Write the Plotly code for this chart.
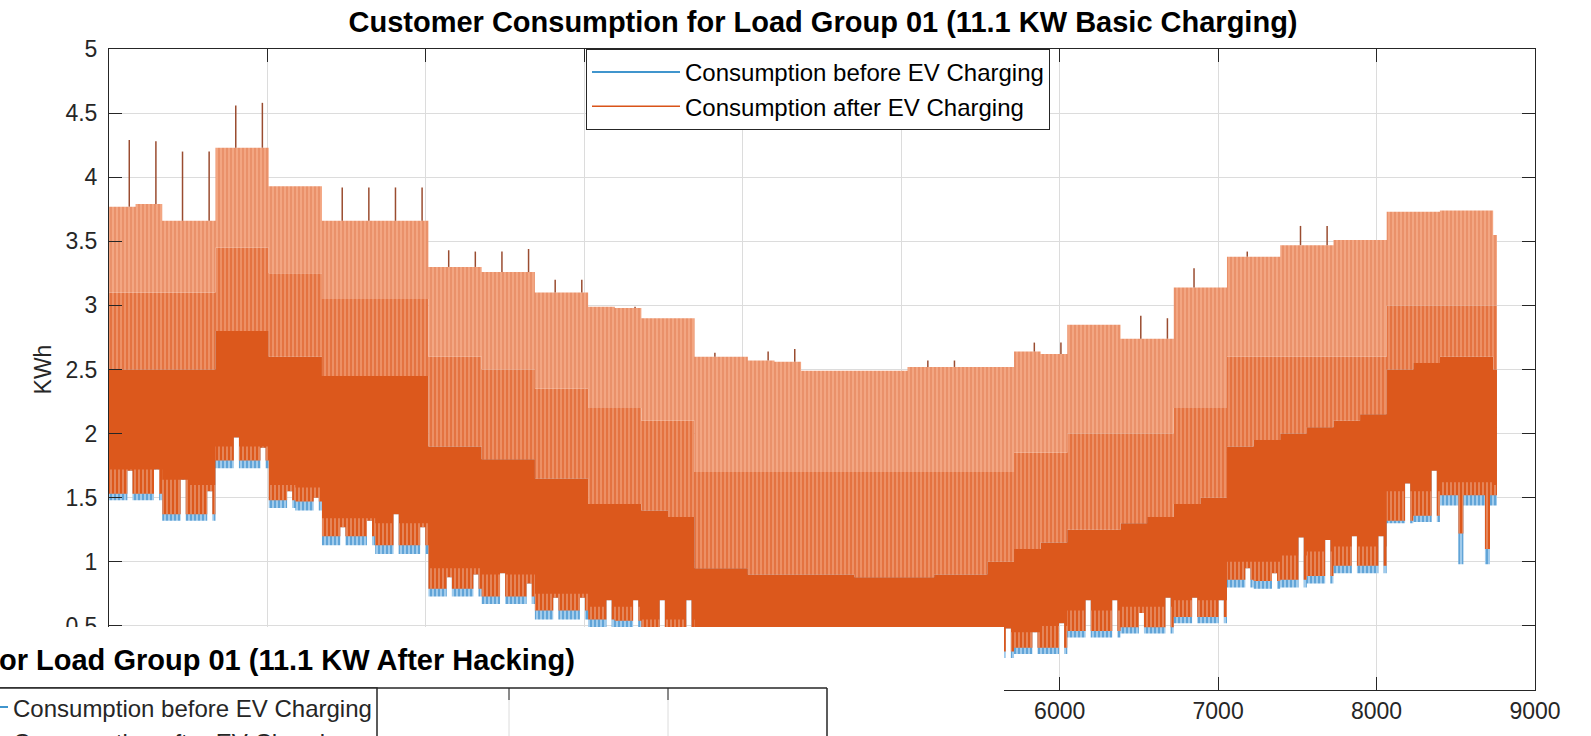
import plotly.graph_objects as go

# ---------------- data (one value per week) ----------------
HOURS_PER_WEEK = 168
TOTAL_HOURS = 8760

peak = [3.77, 3.79, 3.66, 3.66, 4.23, 4.23, 3.93, 3.93, 3.66, 3.66, 3.66, 3.66,
        3.30, 3.30, 3.26, 3.26, 3.10, 3.10, 2.99, 2.98, 2.90, 2.90, 2.60, 2.60,
        2.57, 2.56, 2.49, 2.49, 2.49, 2.49, 2.52, 2.52, 2.52, 2.52, 2.64, 2.62,
        2.85, 2.85, 2.74, 2.74, 3.14, 3.14, 3.38, 3.38, 3.47, 3.47, 3.51, 3.51,
        3.73, 3.73, 3.74, 3.74, 3.55]

spike = [4.29, 4.28, 4.20, 4.20, 4.56, 4.58, 3.93, 3.93, 3.92, 3.92, 3.92, 3.92,
         3.43, 3.42, 3.42, 3.44, 3.20, 3.20, 2.99, 2.99, 2.90, 2.90, 2.63, 2.60,
         2.64, 2.66, 2.49, 2.49, 2.49, 2.49, 2.57, 2.57, 2.52, 2.52, 2.71, 2.71,
         2.85, 2.85, 2.92, 2.90, 3.29, 3.14, 3.42, 3.38, 3.62, 3.62, 3.51, 3.51,
         3.73, 3.73, 3.74, 3.74, 3.55]

after_low = [1.53, 1.53, 1.37, 1.37, 1.79, 1.79, 1.48, 1.47, 1.20, 1.20, 1.13, 1.13,
             0.79, 0.79, 0.73, 0.73, 0.62, 0.62, 0.55, 0.54, 0.45, 0.45, 0.38, 0.38,
             0.35, 0.35, 0.32, 0.32, 0.30, 0.30, 0.30, 0.30, 0.30, 0.30, 0.33, 0.33,
             0.46, 0.46, 0.49, 0.49, 0.57, 0.57, 0.86, 0.85, 0.86, 0.89, 0.97, 0.97,
             1.32, 1.36, 1.52, 1.52, 1.52]

before_low = [1.48, 1.48, 1.32, 1.32, 1.73, 1.73, 1.42, 1.40, 1.13, 1.13, 1.06, 1.06,
              0.73, 0.73, 0.67, 0.67, 0.55, 0.55, 0.49, 0.48, 0.40, 0.40, 0.33, 0.33,
              0.30, 0.30, 0.27, 0.27, 0.25, 0.25, 0.25, 0.25, 0.25, 0.25, 0.28, 0.28,
              0.41, 0.41, 0.44, 0.44, 0.52, 0.52, 0.80, 0.79, 0.80, 0.83, 0.91, 0.91,
              1.30, 1.31, 1.44, 1.44, 1.44]

notch_after = [1.71, 1.72, 1.64, 1.55, 1.97, 1.89, 1.55, 1.50, 1.27, 1.32, 1.37, 1.27,
               0.88, 0.90, 0.91, 0.83, 0.72, 0.72, 0.70, 0.70, 0.70, 0.70, 0.48, 0.48,
               0.48, 0.48, 0.48, 0.48, 0.48, 0.48, 0.48, 0.48, 0.48, 0.48, 0.45, 0.52,
               0.70, 0.70, 0.60, 0.72, 0.72, 0.70, 0.95, 0.91, 1.19, 1.17, 1.20, 1.20,
               1.61, 1.71, 1.22, 1.10, 1.52]

notch_before = [1.71, 1.72, 1.64, 1.55, 1.97, 1.89, 1.55, 1.50, 1.27, 1.32, 1.37, 1.27,
                0.88, 0.90, 0.91, 0.83, 0.72, 0.72, 0.70, 0.70, 0.70, 0.70, 0.48, 0.48,
                0.48, 0.48, 0.48, 0.48, 0.48, 0.48, 0.48, 0.48, 0.48, 0.48, 0.45, 0.52,
                0.70, 0.70, 0.60, 0.72, 0.72, 0.70, 0.95, 0.91, 1.19, 1.17, 1.20, 1.20,
                1.61, 1.71, 0.98, 0.98, 1.44]

fringe_top = [1.72, 1.72, 1.64, 1.60, 1.90, 1.90, 1.60, 1.58, 1.34, 1.34, 1.30, 1.30,
              0.95, 0.95, 0.90, 0.90, 0.75, 0.75, 0.65, 0.65, 0.55, 0.55, 0.48, 0.48,
              0.45, 0.45, 0.42, 0.42, 0.40, 0.40, 0.40, 0.40, 0.40, 0.45, 0.45, 0.50,
              0.62, 0.62, 0.65, 0.65, 0.70, 0.70, 1.00, 1.00, 1.05, 1.08, 1.12, 1.12,
              1.55, 1.55, 1.62, 1.62, 1.60]

dense_top = [2.50, 2.50, 2.50, 2.50, 2.80, 2.80, 2.60, 2.60, 2.45, 2.45, 2.45, 2.45,
             1.90, 1.90, 1.80, 1.80, 1.65, 1.65, 1.45, 1.45, 1.40, 1.35, 0.95, 0.95,
             0.90, 0.90, 0.90, 0.90, 0.88, 0.88, 0.88, 0.90, 0.90, 1.00, 1.10, 1.15,
             1.25, 1.25, 1.30, 1.35, 1.45, 1.50, 1.90, 1.95, 2.00, 2.05, 2.10, 2.15,
             2.50, 2.55, 2.60, 2.60, 2.50]

mid_top = [3.10, 3.10, 3.10, 3.10, 3.45, 3.45, 3.25, 3.25, 3.05, 3.05, 3.05, 3.05,
           2.60, 2.60, 2.50, 2.50, 2.35, 2.35, 2.20, 2.20, 2.10, 2.10, 1.70, 1.70,
           1.70, 1.70, 1.70, 1.70, 1.70, 1.70, 1.70, 1.70, 1.70, 1.70, 1.85, 1.85,
           2.00, 2.00, 2.00, 2.00, 2.20, 2.20, 2.60, 2.60, 2.60, 2.60, 2.60, 2.60,
           3.00, 3.00, 3.00, 3.00, 3.00]

x_ticks = [0, 1000, 2000, 3000, 4000, 5000, 6000, 7000, 8000, 9000]
# labels 0..5000 lie under the pasted-over panel in the reference, so they are blank
x_tick_text = ["", "", "", "", "", "", "6000", "7000", "8000", "9000"]
y_ticks = [0, 0.5, 1, 1.5, 2, 2.5, 3, 3.5, 4, 4.5, 5]
y_tick_text = ["", "0.5", "1", "1.5", "2", "2.5", "3", "3.5", "4", "4.5", "5"]

title_main = "Customer Consumption for Load Group 01 (11.1 KW Basic Charging)"
title_under = "or Load Group 01 (11.1 KW After Hacking)"
name_before = "Consumption before EV Charging"
name_after = "Consumption after EV Charging"

# ---------------- layout geometry ----------------
W, H = 1591, 736
ML, MR, MT, MB = 109, 56, 49, 46
PW, PH = W - ML - MR, H - MT - MB
FONT = "Liberation Sans, Arial, sans-serif"
INK = "#262626"


def px(x):
    return (x - ML) / PW


def py(y):
    return (H - MB - y) / PH


n = len(peak)
starts = [HOURS_PER_WEEK * i for i in range(n)]
ends = [min(s + HOURS_PER_WEEK, TOTAL_HOURS) for s in starts]
NOTCH0, NOTCH1, SPIKE_AT = 116, 148, 128


def step_path(vals, notch=None):
    xs, ys = [], []
    for i, (s, e) in enumerate(zip(starts, ends)):
        v = vals[i]
        if notch is not None and s + NOTCH1 <= e:
            xs += [s, s + NOTCH0, s + NOTCH0, s + NOTCH1, s + NOTCH1, e]
            ys += [v, v, notch[i], notch[i], v, v]
        else:
            xs += [s, e]
            ys += [v, v]
    return xs, ys


def band(lower, upper):
    lx, ly = lower
    ux, uy = upper
    return ux + lx[::-1], uy + ly[::-1]


def add_band(fig, lower, upper, **style):
    bx, by = band(lower, upper)
    fig.add_trace(go.Scatter(x=bx, y=by, mode="lines", fill="toself", line=dict(width=0),
                             showlegend=False, hoverinfo="skip", **style))


fig = go.Figure()

# blue (before charging) strip showing below the orange
add_band(fig, step_path(before_low, notch_before), step_path(dense_top),
         fillpattern=dict(shape="|", fgcolor="#1C78C0", bgcolor="#A6D0EE", size=4, solidity=0.55))
# dense orange body
add_band(fig, step_path(after_low, notch_after), step_path(dense_top), fillcolor="#DC581C")
# sparse lower fringe (orange lines with white gaps)
add_band(fig, step_path(after_low, notch_after), step_path(fringe_top),
         fillpattern=dict(shape="|", fgcolor="rgba(255,255,255,0.75)", bgcolor="rgba(0,0,0,0)",
                          size=4, solidity=0.35))
# medium band
add_band(fig, step_path(dense_top), step_path(mid_top),
         fillpattern=dict(shape="|", fgcolor="#D95319", bgcolor="#EE9268", size=4, solidity=0.55))
# light upper band
add_band(fig, step_path(mid_top), step_path(peak),
         fillpattern=dict(shape="|", fgcolor="#D25E30", bgcolor="#F3A682", size=4, solidity=0.3))

sx, sy = [], []
for i, s in enumerate(starts):
    if spike[i] > peak[i] and s + SPIKE_AT <= ends[i]:
        sx += [s + SPIKE_AT, s + SPIKE_AT, None]
        sy += [peak[i], spike[i], None]
fig.add_trace(go.Scatter(x=sx, y=sy, mode="lines", line=dict(color="#9A4C30", width=1.5),
                         showlegend=False, hoverinfo="skip"))

# legend entries
fig.add_trace(go.Scatter(x=[None], y=[None], mode="lines", name=name_before,
                         line=dict(color="#0072BD", width=1.5)))
fig.add_trace(go.Scatter(x=[None], y=[None], mode="lines", name=name_after,
                         line=dict(color="#D95319", width=1.5)))

axis_common = dict(showline=True, linecolor=INK, linewidth=1, mirror="allticks",
                   ticks="inside", ticklen=13, tickcolor=INK, tickwidth=1,
                   showgrid=True, gridcolor="#DCDCDC", gridwidth=1, zeroline=False,
                   tickfont=dict(family=FONT, size=23, color=INK))

fig.update_xaxes(range=[0, 9000], tickmode="array", tickvals=x_ticks,
                 ticktext=x_tick_text, **axis_common)
fig.update_yaxes(range=[0, 5], tickmode="array", tickvals=y_ticks, ticktext=y_tick_text,
                 ticklabelstandoff=6,
                 title=dict(text="KWh", font=dict(family=FONT, size=23, color=INK), standoff=7),
                 **axis_common)

# white panel covering the lower-left (a second chart pasted over the first)
shapes = [
    dict(type="rect", xref="paper", yref="paper", layer="above",
         x0=px(-10), x1=px(1004), y0=py(760), y1=py(627),
         fillcolor="white", line=dict(width=0)),
    dict(type="line", xref="paper", yref="paper", layer="above",
         x0=px(509), x1=px(509), y0=py(688), y1=py(760), line=dict(color="#DCDCDC", width=1)),
    dict(type="line", xref="paper", yref="paper", layer="above",
         x0=px(668), x1=px(668), y0=py(688), y1=py(760), line=dict(color="#DCDCDC", width=1)),
    dict(type="line", xref="paper", yref="paper", layer="above",
         x0=px(509), x1=px(509), y0=py(688), y1=py(700), line=dict(color=INK, width=1)),
    dict(type="line", xref="paper", yref="paper", layer="above",
         x0=px(668), x1=px(668), y0=py(688), y1=py(700), line=dict(color=INK, width=1)),
    dict(type="line", xref="paper", yref="paper", layer="above",
         x0=px(-10), x1=px(827), y0=py(688), y1=py(688), line=dict(color=INK, width=1.5)),
    dict(type="line", xref="paper", yref="paper", layer="above",
         x0=px(827), x1=px(827), y0=py(688), y1=py(760), line=dict(color=INK, width=1.5)),
    dict(type="rect", xref="paper", yref="paper", layer="above",
         x0=px(-10), x1=px(377), y0=py(760), y1=py(688),
         fillcolor="white", line=dict(color=INK, width=1.5)),
    dict(type="line", xref="paper", yref="paper", layer="above",
         x0=px(-10), x1=px(8), y0=py(707), y1=py(707), line=dict(color="#0072BD", width=1.5)),
]

annotations = [
    dict(xref="paper", yref="paper", x=px(-3), y=py(660), xanchor="left", yanchor="middle",
         text="<b>" + title_under + "</b>", showarrow=False,
         font=dict(family=FONT, size=29, color="black")),
    dict(xref="paper", yref="paper", x=px(11), y=py(708), xanchor="left", yanchor="middle",
         text=name_before, showarrow=False, font=dict(family=FONT, size=24, color=INK)),
    dict(xref="paper", yref="paper", x=px(11), y=py(742), xanchor="left", yanchor="middle",
         text=name_after, showarrow=False, font=dict(family=FONT, size=24, color=INK)),
]

fig.update_layout(
    width=W, height=H,
    margin=dict(l=ML, r=MR, t=MT, b=MB, autoexpand=False),
    paper_bgcolor="white", plot_bgcolor="white",
    title=dict(text="<b>" + title_main + "</b>", x=px(823), xref="paper", xanchor="center",
               y=1 - 22 / H, yref="container", yanchor="middle",
               font=dict(family=FONT, size=29, color="black")),
    legend=dict(x=px(586), y=1, xanchor="left", yanchor="top", bgcolor="white",
                bordercolor=INK, borderwidth=1, itemwidth=88,
                font=dict(family=FONT, size=24, color="black"), tracegroupgap=0),
    shapes=shapes,
    annotations=annotations,
)

fig.write_html("out.html", config={"displayModeBar": False},
               post_script="document.body.style.margin='0';document.body.style.overflow='hidden';")
